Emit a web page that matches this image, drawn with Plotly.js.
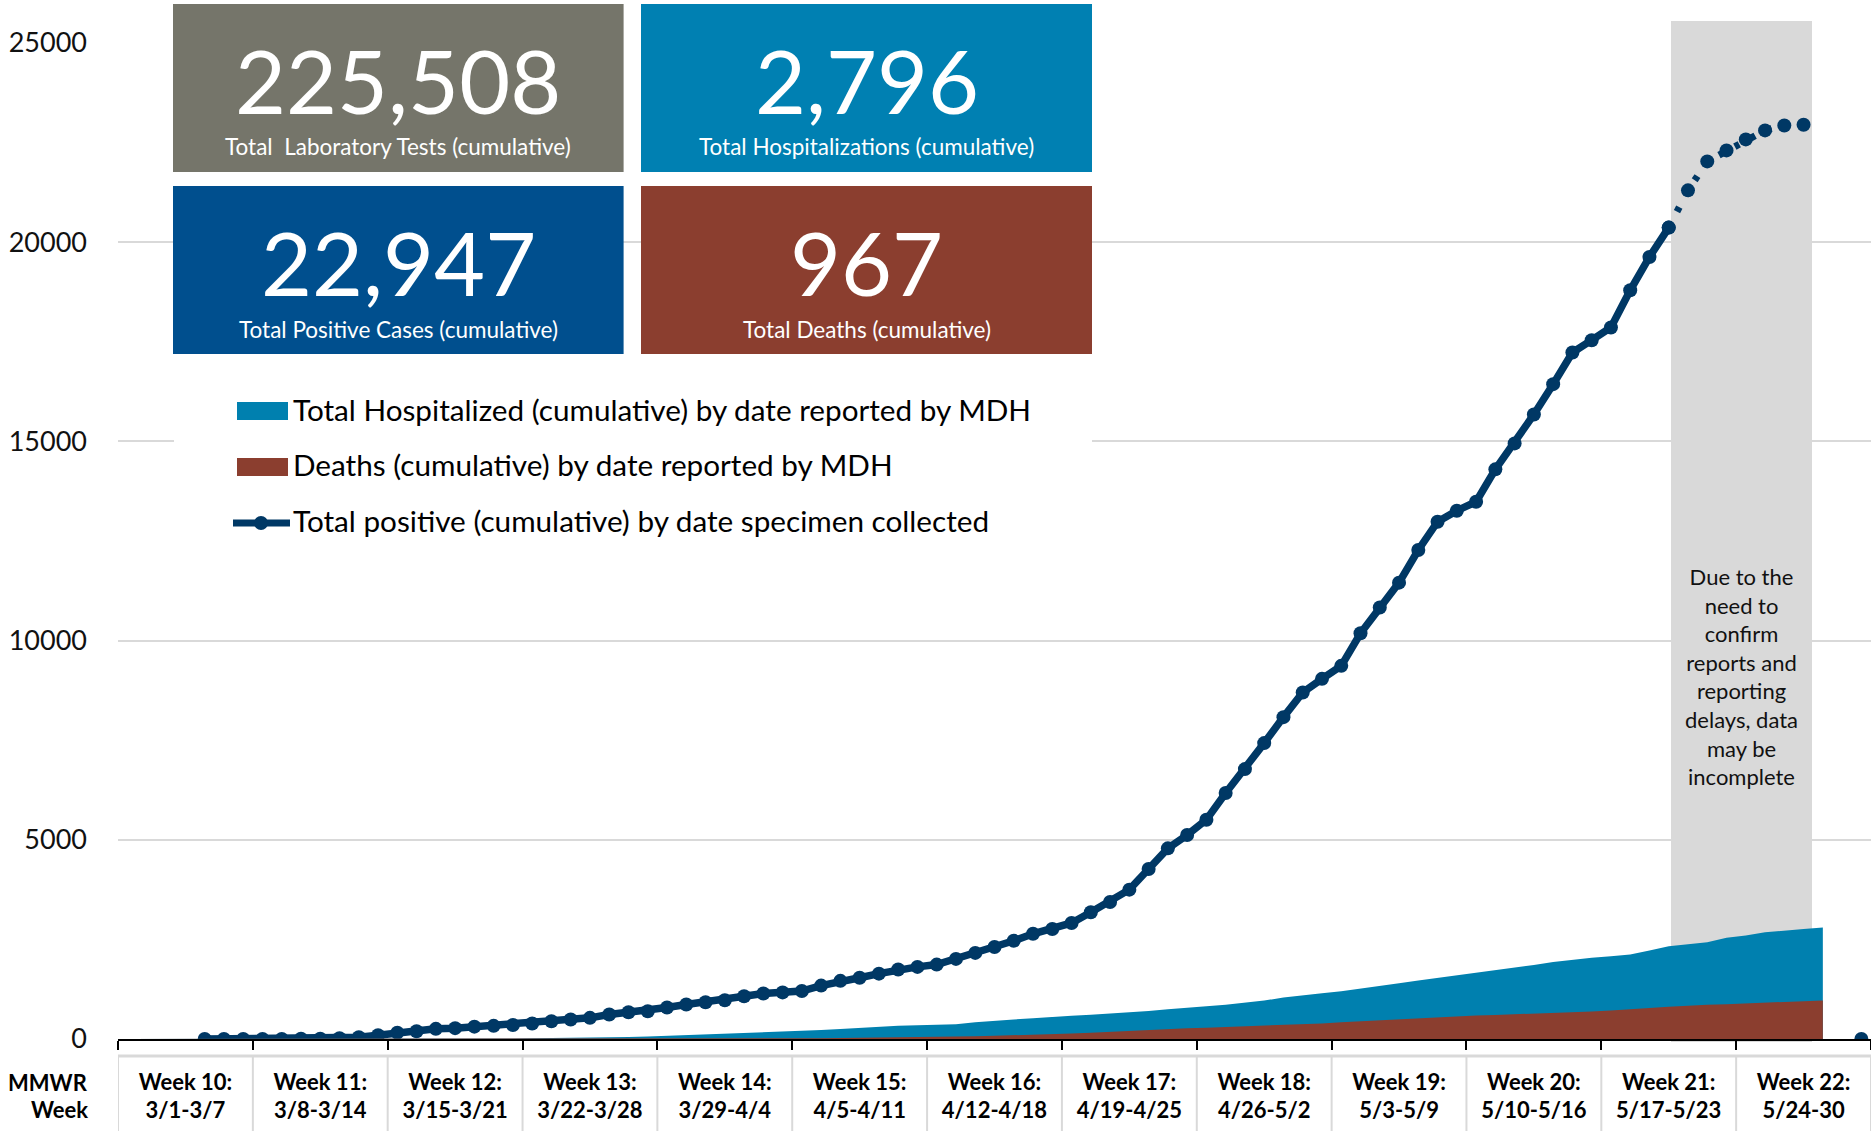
<!DOCTYPE html>
<html><head><meta charset="utf-8">
<script src="https://cdn.plot.ly/plotly-3.0.1.min.js"></script>
<style>html,body{margin:0;padding:0;background:#fff;}#chart{width:1871px;height:1131px;}</style>
</head><body><div id="chart"></div>
<script>
// ---------------- DATA ----------------
const dates = [
 "3/1","3/2","3/3","3/4","3/5","3/6","3/7","3/8","3/9","3/10","3/11","3/12","3/13","3/14","3/15","3/16","3/17","3/18","3/19","3/20","3/21","3/22","3/23","3/24","3/25","3/26","3/27","3/28","3/29","3/30","3/31",
 "4/1","4/2","4/3","4/4","4/5","4/6","4/7","4/8","4/9","4/10","4/11","4/12","4/13","4/14","4/15","4/16","4/17","4/18","4/19","4/20","4/21","4/22","4/23","4/24","4/25","4/26","4/27","4/28","4/29","4/30",
 "5/1","5/2","5/3","5/4","5/5","5/6","5/7","5/8","5/9","5/10","5/11","5/12","5/13","5/14","5/15","5/16","5/17","5/18","5/19","5/20","5/21","5/22","5/23","5/24","5/25","5/26","5/27","5/28","5/29","5/30"];

const weekLabels = ["Week 10:","Week 11:","Week 12:","Week 13:","Week 14:","Week 15:","Week 16:","Week 17:","Week 18:","Week 19:","Week 20:","Week 21:","Week 22:"];
const weekRanges = ["3/1-3/7","3/8-3/14","3/15-3/21","3/22-3/28","3/29-4/4","4/5-4/11","4/12-4/18","4/19-4/25","4/26-5/2","5/3-5/9","5/10-5/16","5/17-5/23","5/24-30"];

// Total positive (cumulative) by date specimen collected
const totalPositive = [null,null,null,null,
 0,0,1,2,3,5,8,17,46,96,
 160,196,255,272,310,330,350,389,447,489,
 531,614,673,698,790,865,924,974,1074,1141,
 1170,1205,1340,1460,1537,1640,1745,1810,1868,2011,
 2161,2310,2465,2640,2760,2913,3180,3440,3749,4268,
 4785,5120,5504,6173,6775,7427,8079,8697,9040,9366,
 10185,10830,11455,12274,12984,13260,13486,14298,14950,15677,
 16437,17232,17540,17859,18794,19629,20367,21301,22028,22304,
 22580,22806,22931,22947,null,null,0];

// Total Hospitalized (cumulative) by date reported by MDH
const totalHospitalized = [0,0,0,0,0,0,0,0,0,0,0,0,0,0,0,0,
 3,5,8,12,15,19,23,26,30,39,
 50,63,80,96,112,130,148,163,182,198,
 225,252,280,305,330,345,358,370,420,460,
 490,520,556,585,608,635,660,700,745,790,
 820,857,905,965,1040,1100,1150,1199,1260,1330,
 1400,1467,1530,1600,1665,1725,1800,1860,1930,1993,
 2040,2080,2119,2220,2328,2380,2430,2540,2600,2680,
 2729,2760,2796,null,null];

// Deaths (cumulative) by date reported by MDH
const totalDeaths = [0,0,0,0,0,0,0,0,0,0,0,0,0,0,0,0,0,0,0,0,0,0,0,0,0,
 1,2,3,4,6,8,10,12,13,15,
 18,21,25,30,35,40,46,52,58,66,
 80,92,106,121,140,160,185,213,235,255,
 270,285,300,320,338,355,372,390,420,445,
 470,500,525,550,572,590,605,620,636,652,
 670,690,715,740,775,810,840,860,875,890,
 905,925,948,967,null,null];

const yTicks = [0,5000,10000,15000,20000,25000];
const summaryValues = ["225,508","2,796","22,947","967"];
const summaryLabels = ["Total\u00a0 Laboratory Tests (cumulative)","Total Hospitalizations (cumulative)","Total Positive Cases (cumulative)","Total Deaths (cumulative)"];
const legendLabels = ["Total Hospitalized (cumulative) by date reported by MDH","Deaths (cumulative) by date reported by MDH","Total positive (cumulative) by date specimen collected"];
const noteText = "Due to the<br>need to<br>confirm<br>reports and<br>reporting<br>delays, data<br>may be<br>incomplete";
const incompleteFrom = 80; // index of 5/21, start of shaded period

// ---------------- BUILD ----------------
const xIdx = dates.map((d,i)=>i);
const solidPos = totalPositive.map((v,i)=> i<=incompleteFrom ? v : null);
const dotPos = totalPositive.map((v,i)=> i>=incompleteFrom ? v : null);

const NAVY = '#003865', BLUE = '#0080AF', BROWN = '#8B3E2F';
const W = 1871, H = 1131, L = 118, R = 1871, T = 43, B = 1039;
const px = X => (X - L) / (R - L);
const py = Y => (B - Y) / (B - T);

const traces = [
  {x:xIdx, y:totalHospitalized, xaxis:'x2', yaxis:'y', type:'scatter', mode:'lines', fill:'tozeroy',
   fillcolor:BLUE, line:{width:0, color:BLUE}, name:legendLabels[0], text:dates, showlegend:false},
  {x:xIdx, y:totalDeaths, xaxis:'x2', yaxis:'y', type:'scatter', mode:'lines', fill:'tozeroy',
   fillcolor:BROWN, line:{width:0, color:BROWN}, name:legendLabels[1], text:dates, showlegend:false},
  {x:xIdx, y:solidPos, type:'scatter', mode:'lines+markers', line:{color:NAVY, width:7.5},
   marker:{color:NAVY, size:14}, name:legendLabels[2], text:dates, showlegend:false},
  {x:xIdx, y:dotPos, type:'scatter', mode:'lines+markers', connectgaps:false,
   line:{color:NAVY, width:7, dash:'5px,13px'}, marker:{color:NAVY, size:14},
   name:legendLabels[2]+' (incomplete)', text:dates, showlegend:false}
];

const weekCenters = weekLabels.map((w,k)=>3+7*k);
const shapes = [];
const annotations = [];

// shaded incomplete region
shapes.push({type:'rect', xref:'paper', yref:'paper', x0:px(1671), x1:px(1812), y0:py(1042), y1:py(21),
  fillcolor:'#D9D9D9', line:{width:0}, layer:'between'});

// week table grid below the axis
shapes.push({type:'line', xref:'paper', yref:'paper', x0:0, x1:1, y0:py(1056), y1:py(1056), line:{color:'#D9D9D9', width:3}, layer:'above'});
for (let k=0;k<=weekLabels.length;k++){
  shapes.push({type:'line', xref:'x', yref:'paper', x0:-0.5+7*k, x1:-0.5+7*k, y0:py(1056), y1:py(1135), line:{color:'#D9D9D9', width:2}, layer:'above'});
}

// summary boxes
const boxes = [
  {x0:173, x1:623.6, y0:4, y1:172, c:'#75756A'},
  {x0:641, x1:1092, y0:4, y1:172, c:'#0080B2'},
  {x0:173, x1:623.6, y0:186, y1:354, c:'#004F8E'},
  {x0:641, x1:1092, y0:186, y1:354, c:'#8B3E2F'}
];
boxes.forEach((b,i)=>{
  shapes.push({type:'rect', xref:'paper', yref:'paper', x0:px(b.x0), x1:px(b.x1), y0:py(b.y1), y1:py(b.y0), fillcolor:b.c, line:{width:0}, layer:'above'});
  const cx = (b.x0+b.x1)/2;
  annotations.push({xref:'paper', yref:'paper', x:px(cx), y:py(b.y0+76), xanchor:'center', yanchor:'middle', showarrow:false,
    text:summaryValues[i], font:{family:'Lato', size:88, color:'#FFFFFF'}});
  annotations.push({xref:'paper', yref:'paper', x:px(cx), y:py(b.y0+143), xanchor:'center', yanchor:'middle', showarrow:false,
    text:summaryLabels[i], font:{family:'Lato', size:22.5, color:'#FFFFFF'}});
});

// legend (drawn manually)
shapes.push({type:'rect', xref:'paper', yref:'paper', x0:px(174), x1:px(1092), y0:py(560), y1:py(380), fillcolor:'#FFFFFF', line:{width:0}, layer:'above'});
shapes.push({type:'rect', xref:'paper', yref:'paper', x0:px(237), x1:px(288), y0:py(420), y1:py(402), fillcolor:BLUE, line:{width:0}, layer:'above'});
shapes.push({type:'rect', xref:'paper', yref:'paper', x0:px(237), x1:px(288), y0:py(476), y1:py(458), fillcolor:BROWN, line:{width:0}, layer:'above'});
shapes.push({type:'line', xref:'paper', yref:'paper', x0:px(233), x1:px(290), y0:py(523), y1:py(523), line:{color:NAVY, width:7}, layer:'above'});
shapes.push({type:'circle', xref:'paper', yref:'paper', x0:px(254), x1:px(268), y0:py(530), y1:py(516), fillcolor:NAVY, line:{width:0}, layer:'above'});
[409.5, 464.5, 520.5].forEach((yy,i)=>{
  annotations.push({xref:'paper', yref:'paper', x:px(291), y:py(yy), xanchor:'left', yanchor:'middle', showarrow:false,
    text:legendLabels[i], font:{family:'Lato', size:29.7, color:'#000'}});
});

// note in the shaded region
annotations.push({xref:'paper', yref:'paper', x:px(1741), y:py(676), xanchor:'center', yanchor:'middle', showarrow:false,
  text:noteText, align:'center', font:{family:'Lato', size:22, color:'#111'}});

// MMWR Week label
annotations.push({xref:'paper', yref:'paper', x:px(90), y:py(1082), xanchor:'right', yanchor:'middle', showarrow:false,
  text:'MMWR', font:{family:'Lato', size:22, color:'#000', weight:700}});
annotations.push({xref:'paper', yref:'paper', x:px(90), y:py(1109), xanchor:'right', yanchor:'middle', showarrow:false,
  text:'Week', font:{family:'Lato', size:22, color:'#000', weight:700}});

const layout = {
  width:W, height:H,
  margin:{l:L, r:W-R, t:T, b:H-B, pad:0},
  paper_bgcolor:'#FFFFFF', plot_bgcolor:'#FFFFFF',
  font:{family:'Lato, sans-serif', color:'#000'},
  showlegend:false,
  xaxis:{range:[-0.5,90.5], showgrid:false, zeroline:false, showline:true, linecolor:'#000', linewidth:2,
    tickmode:'array', tickvals:weekCenters, ticktext:weekLabels, ticks:'',
    tickfont:{family:'Lato', size:22, color:'#000', weight:700}, ticklabelstandoff:23,
    minor:{tick0:-0.5, dtick:7, ticks:'outside', ticklen:9, tickwidth:2, tickcolor:'#000', showgrid:false}},
  xaxis2:{overlaying:'x', matches:'x', anchor:'y', side:'bottom', range:[-0.5,90.5], showgrid:false, zeroline:false, showline:false,
    tickmode:'array', tickvals:weekCenters, ticktext:weekRanges, ticks:'',
    tickfont:{family:'Lato', size:22, color:'#000', weight:700}, ticklabelstandoff:56},
  yaxis:{range:[0,25000], tickmode:'array', tickvals:yTicks, tickformat:'d', showgrid:true, gridcolor:'#D9D9D9', gridwidth:2,
    zeroline:false, showline:false, ticks:'', tickfont:{family:'Lato', size:27, color:'#111'}, ticklabelstandoff:30},
  shapes:shapes, annotations:annotations
};

Plotly.newPlot('chart', traces, layout, {staticPlot:true, displayModeBar:false});
</script></body></html>
